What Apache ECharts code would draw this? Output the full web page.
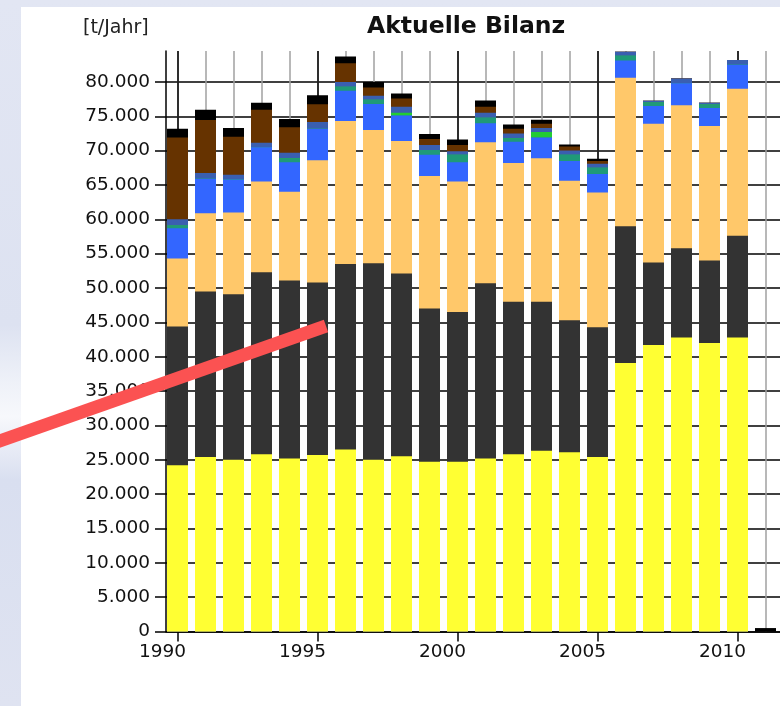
<!DOCTYPE html>
<html>
<head>
<meta charset="utf-8">
<title>Aktuelle Bilanz</title>
<script src="https://cdn.jsdelivr.net/npm/echarts@6/dist/echarts.min.js"></script>
<style>
  html, body { margin: 0; padding: 0; }
  body {
    width: 780px; height: 706px; overflow: hidden; position: relative;
    background: linear-gradient(to bottom, #e2e6f3 0%, #dde2f1 46%, #eef1f8 54%, #f7f8fc 59%, #d9dff0 68%, #dfe3f1 100%);
  }
  #panel { position: absolute; left: 21px; top: 7px; right: 0; bottom: 0; background: #fff; }
  #chart { position: absolute; left: 0; top: 0; width: 780px; height: 706px; }
</style>
</head>
<body>
<div id="panel"></div>
<div id="chart"></div>
<script>
// Jahre und Schichten (von unten nach oben), Werte in t/Jahr
const years = [1990, 1991, 1992, 1993, 1994, 1995, 1996, 1997, 1998, 1999, 2000,
               2001, 2002, 2003, 2004, 2005, 2006, 2007, 2008, 2009, 2010, 2011];

const gelb      = [24200, 25400, 25000, 25800, 25200, 25700, 26500, 25000, 25500, 24700, 24700,
                   25200, 25800, 26300, 26100, 25400, 39100, 41700, 42800, 42000, 42800, 0];
const dunkel    = [20200, 24100, 24100, 26500, 25900, 25100, 27000, 28600, 26600, 22300, 21800,
                   25500, 22200, 21700, 19200, 18900, 19900, 12000, 13000, 12000, 14800, 0];
const orange    = [9900, 11400, 11900, 13200, 12900, 17800, 20800, 19400, 19300, 19300, 19000,
                   20500, 20200, 20900, 20300, 19600, 21600, 20200, 20800, 19600, 21400, 0];
const blau      = [4400, 5000, 4800, 5000, 4300, 4600, 4400, 3800, 3700, 3100, 2800,
                   2800, 3100, 3000, 2900, 2700, 2500, 2600, 3200, 2600, 3500, 0];
const tuerkis   = [400, 0, 0, 0, 600, 0, 600, 600, 0, 700, 1100,
                   800, 500, 0, 900, 900, 700, 500, 0, 500, 0, 0];
const gruen     = [0, 0, 0, 0, 0, 0, 0, 0, 400, 0, 0,
                   0, 0, 800, 0, 0, 0, 0, 0, 0, 0, 0];
const stahlblau = [900, 850, 700, 650, 800, 950, 700, 600, 900, 700, 500,
                   700, 700, 600, 600, 600, 600, 250, 700, 250, 700, 0];
const braun     = [11900, 7700, 5500, 4800, 3700, 2600, 2700, 1200, 1200, 900, 900,
                   900, 700, 600, 600, 400, 0, 0, 0, 0, 0, 0];
const schwarz   = [1300, 1500, 1300, 1000, 1200, 1300, 1000, 800, 700, 700, 800,
                   900, 600, 600, 300, 300, 0, 0, 0, 0, 0, 500];

const yTicks = [0, 5000, 10000, 15000, 20000, 25000, 30000, 35000, 40000,
                45000, 50000, 55000, 60000, 65000, 70000, 75000, 80000];
const labelYears = [1990, 1995, 2000, 2005, 2010];
const gridYears = [1990, 1991, 1992, 1993, 1994, 1995, 1996, 1997, 1998, 1999, 2000, 2001,
                   2002, 2003, 2004, 2005, 2006, 2007, 2008, 2009, 2010, 2011, 2012];

const layers = [
  { name: 'gelb', data: gelb, color: '#ffff33' },
  { name: 'dunkel', data: dunkel, color: '#333333' },
  { name: 'orange', data: orange, color: '#ffc86a' },
  { name: 'blau', data: blau, color: '#3366ff' },
  { name: 'tuerkis', data: tuerkis, color: '#1f9a78' },
  { name: 'gruen', data: gruen, color: '#22cc33' },
  { name: 'stahlblau', data: stahlblau, color: '#3a5fb0' },
  { name: 'braun', data: braun, color: '#663300' },
  { name: 'schwarz', data: schwarz, color: '#000000' }
];

function tausender(v) {
  return String(v).replace(/\B(?=(\d{3})+(?!\d))/g, '.');
}

// value axis for years -> no built-in stack, so each layer is drawn from 0 up to
// its running sum, top layer first so the lower ones sit in front
let running = years.map(() => 0);
const sums = layers.map(l => {
  running = running.map((s, i) => s + l.data[i]);
  return running;
});

// 28 px per year, bar edges on whole pixels
const PX_YEAR = 28;
const X_MIN = 1990 - 11.5 / PX_YEAR;
const X_MAX = 2012.5;
const FONT = 'DejaVu Sans';

const chart = echarts.init(document.getElementById('chart'));

chart.setOption({
  animation: false,
  textStyle: { fontFamily: FONT },
  title: [
    {
      text: 'Aktuelle Bilanz', left: 367, top: 15, padding: 0,
      textStyle: { fontFamily: FONT, fontSize: 23.5, fontWeight: 'bold', color: '#111' }
    },
    {
      text: '[t/Jahr]', left: 83, top: 19, padding: 0,
      textStyle: { fontFamily: FONT, fontSize: 19, fontWeight: 'normal', color: '#222' }
    }
  ],
  grid: {
    left: 166, top: 51, width: PX_YEAR * (X_MAX - X_MIN), height: 580.5,
    outerBoundsMode: 'none', containLabel: false
  },
  xAxis: [
    {
      type: 'value', min: X_MIN, max: X_MAX,
      axisLine: { onZero: false, lineStyle: { color: '#000', width: 1.5 } },
      axisTick: { customValues: labelYears, length: 10, lineStyle: { color: '#000', width: 1.5 } },
      axisLabel: {
        customValues: labelYears, formatter: v => String(v),
        fontFamily: FONT, fontSize: 18.5, color: '#111', margin: 11, padding: [0, 30, 0, 0]
      },
      splitLine: { show: false }
    },
    {
      type: 'value', min: X_MIN, max: X_MAX, position: 'bottom',
      axisLine: { show: false }, axisLabel: { show: false },
      axisTick: { show: false, customValues: gridYears },
      splitLine: { show: true, lineStyle: { color: '#a0a0a0', width: 1.5 } }
    },
    {
      type: 'value', min: X_MIN, max: X_MAX, position: 'bottom',
      axisLine: { show: false }, axisLabel: { show: false },
      axisTick: { show: false, customValues: labelYears },
      splitLine: { show: true, lineStyle: { color: '#000', width: 1.5 } }
    }
  ],
  yAxis: {
    type: 'value', min: 0, max: 84500,
    axisLine: { show: true, onZero: false, lineStyle: { color: '#000', width: 1.5 } },
    axisTick: { show: true, customValues: yTicks, length: 11, lineStyle: { color: '#000', width: 1.5 } },
    axisLabel: {
      customValues: yTicks, formatter: tausender,
      fontFamily: FONT, fontSize: 18.5, color: '#111', margin: 16
    },
    splitLine: { show: true, lineStyle: { color: '#000', width: 1.5 } }
  },
  graphic: [
    {
      type: 'line', z: 100, silent: true,
      shape: { x1: -6, y1: 443, x2: 326, y2: 326 },
      style: { stroke: '#fb5252', lineWidth: 13, lineCap: 'butt' }
    }
  ],
  series: layers.map((l, k) => ({
    type: 'bar',
    name: l.name,
    xAxisIndex: 0,
    barWidth: 21,
    barGap: '-100%',
    silent: true,
    itemStyle: { color: l.color },
    data: years.map((y, i) => [y, sums[k][i]])
  })).reverse()
});
</script>
</body>
</html>
